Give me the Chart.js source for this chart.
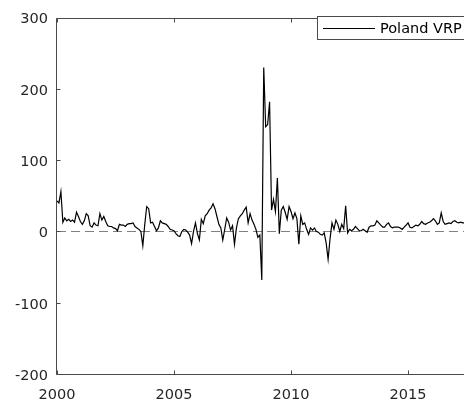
<!DOCTYPE html>
<html>
<head>
<meta charset="utf-8">
<script src="https://cdn.jsdelivr.net/npm/chart.js@4/dist/chart.umd.min.js"></script>
<style>
  html, body { margin: 0; padding: 0; background: #fff; overflow: hidden; }
  canvas { display: block; }
</style>
</head>
<body>
<canvas id="c" width="464" height="403"></canvas>
<script>
// Monthly variance risk premium, Poland, starting January 2000
const seriesLabel = 'Poland VRP';
const startYear = 2000;
const yearTicks = [2000, 2005, 2010, 2015];
const valueTicks = [-200, -100, 0, 100, 200, 300];
const vrp = [
  43, 40, 56, 13, 19, 15, 17, 14, 16, 13, 27, 21,
  14, 10, 15, 25, 22, 8, 6, 12, 9, 8, 25, 16,
  21, 14, 8, 7, 7, 5, 4, 1, 10, 9, 9, 7,
  10, 11, 11, 12, 7, 5, 3, 0, -20, 10, 35, 32,
  12, 13, 7, 1, 5, 15, 12, 11, 10, 7, 3, 2,
  1, -3, -6, -7, 0, 3, 2, -1, -5, -17, 0, 12,
  -3, -12, 17, 11, 22, 25, 30, 33, 39, 32, 21, 10,
  5, -12, 3, 19, 13, 2, 8, -18, 5, 18, 22, 25,
  30, 34, 12, 25, 16, 10, 3, -8, -5, -68, 230, 147,
  150, 182, 30, 45, 28, 75, -3, 30, 35, 27, 17, 35,
  28, 18, 26, 18, -18, 22, 10, 12, 3, -4, 5, 2,
  5, 0, -1, -4, -5, -2, -16, -39, -10, 12, 3, 16,
  10, 0, 10, 4, 36, -2, 3, 1, 3, 7, 4, 1,
  1, 3, 1, -1, 6, 8, 8, 9, 15, 12, 9, 6,
  6, 10, 12, 7, 5, 6, 6, 6, 5, 3, 6, 9,
  12, 6, 5, 7, 9, 8, 10, 14, 11, 10, 12, 13,
  15, 18, 15, 10, 12, 26, 14, 10, 11, 12, 11, 14,
  15, 13, 12, 13, 12, 12
];

const xMax = 2017.39;
const axisColor = '#4a4a4a';
const textColor = '#262626';
const fontFamily = "'DejaVu Sans', Verdana, sans-serif";
const fontSize = 14.5;

// Box frame with inward tick marks, plus the legend box in the top-right corner
const framePlugin = {
  id: 'frame',
  afterDatasetsDraw(chart) {
    const { ctx, chartArea: a, scales: { x, y } } = chart;
    const L = 4;
    ctx.save();
    ctx.strokeStyle = axisColor;
    ctx.lineWidth = 1;
    ctx.beginPath();
    const left = Math.round(a.left) - 0.5;
    const top = Math.round(a.top) + 0.5;
    const bottom = Math.round(a.bottom) + 0.5;
    ctx.moveTo(left, top); ctx.lineTo(a.right, top);
    ctx.moveTo(left, top); ctx.lineTo(left, bottom);
    ctx.moveTo(left, bottom); ctx.lineTo(a.right, bottom);
    yearTicks.forEach(v => {
      const px = Math.round(x.getPixelForValue(v)) + 0.5;
      ctx.moveTo(px, bottom); ctx.lineTo(px, bottom - L);
      ctx.moveTo(px, top); ctx.lineTo(px, top + L);
    });
    valueTicks.forEach(v => {
      const py = Math.round(y.getPixelForValue(v)) + 0.5;
      ctx.moveTo(left, py); ctx.lineTo(left + L, py);
    });
    ctx.stroke();

    // legend
    const bx = 317.5, by = 16.5, bh = 23;
    ctx.fillStyle = '#fff';
    ctx.fillRect(bx, by, chart.width - bx + 20, bh);
    ctx.strokeRect(bx, by, chart.width - bx + 20, bh);
    const ly = by + bh / 2 + 0.5;
    ctx.strokeStyle = '#000';
    ctx.lineWidth = 1;
    ctx.beginPath();
    ctx.moveTo(323, ly); ctx.lineTo(375, ly);
    ctx.stroke();
    ctx.fillStyle = '#000';
    ctx.font = fontSize + 'px ' + fontFamily;
    ctx.textBaseline = 'middle';
    ctx.textAlign = 'left';
    ctx.fillText(chart.data.datasets[0].label, 380, ly + 0.5);
    ctx.restore();
  }
};

new Chart(document.getElementById('c'), {
  type: 'line',
  data: {
    datasets: [
      {
        label: seriesLabel,
        data: vrp.map((v, i) => ({ x: startYear + i / 12, y: v })),
        borderColor: '#000',
        borderWidth: 1.2,
        pointRadius: 0,
        tension: 0,
        fill: false,
        order: 1
      },
      {
        label: 'zero',
        data: [{ x: startYear, y: 0 }, { x: xMax, y: 0 }],
        borderColor: '#808080',
        borderWidth: 1.2,
        borderDash: [9, 5],
        pointRadius: 0,
        fill: false,
        order: 2
      }
    ]
  },
  options: {
    responsive: false,
    animation: false,
    events: [],
    layout: { padding: { top: 15, right: 0, left: 0, bottom: 0 } },
    plugins: { legend: { display: false }, tooltip: { enabled: false } },
    scales: {
      x: {
        type: 'linear',
        min: startYear,
        max: xMax,
        grid: { display: false, drawTicks: false },
        border: { display: false },
        afterBuildTicks: s => { s.ticks = yearTicks.map(v => ({ value: v })); },
        afterFit: s => { s.height = 29; },
        ticks: {
          color: textColor,
          font: { family: fontFamily, size: fontSize },
          padding: 13,
          maxRotation: 0,
          autoSkip: false,
          callback: v => String(v)
        }
      },
      y: {
        type: 'linear',
        min: -200,
        max: 300,
        grid: { display: false, drawTicks: false },
        border: { display: false },
        afterBuildTicks: s => { s.ticks = valueTicks.map(v => ({ value: v })); },
        afterFit: s => { s.width = 57; },
        ticks: {
          color: textColor,
          font: { family: fontFamily, size: fontSize },
          padding: 9,
          labelOffset: 2,
          callback: v => String(v)
        }
      }
    }
  },
  plugins: [framePlugin]
});
</script>
</body>
</html>
